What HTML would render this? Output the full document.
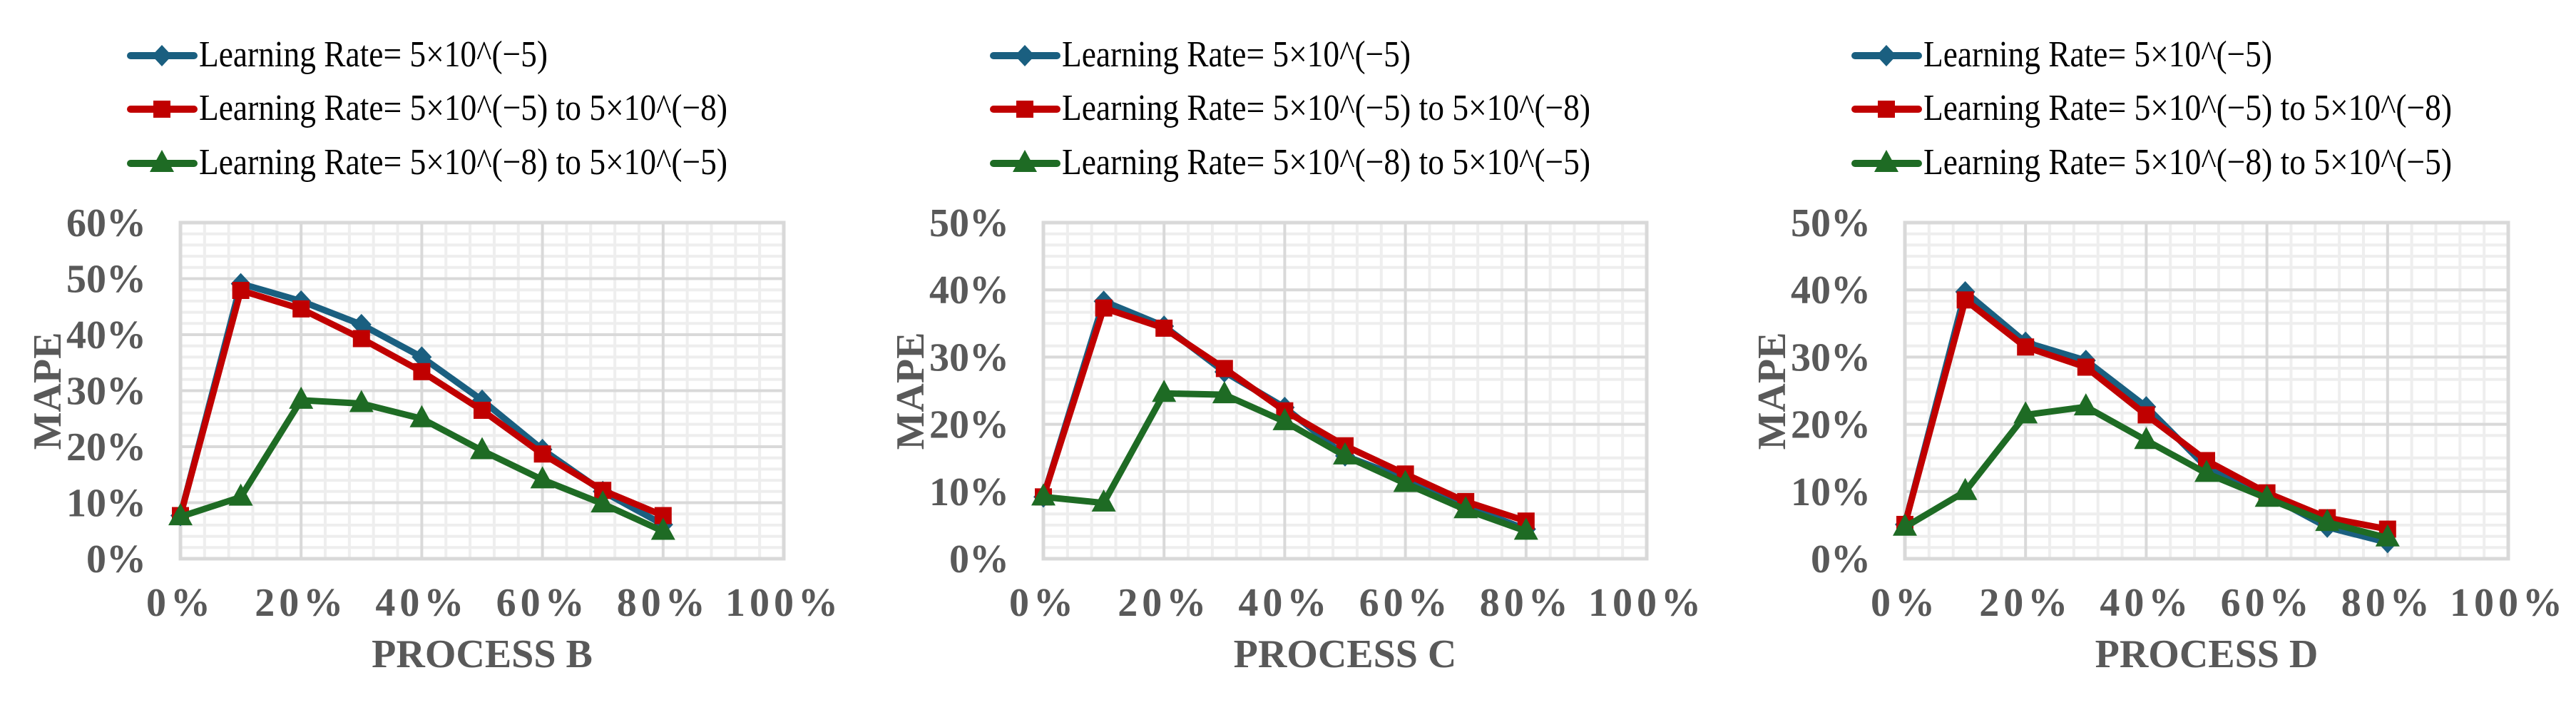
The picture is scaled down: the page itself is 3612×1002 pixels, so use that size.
<!DOCTYPE html>
<html><head><meta charset="utf-8">
<style>
html,body{margin:0;padding:0;background:#fff;}
svg{display:block;}
text{font-family:"Liberation Serif","Times New Roman",serif;}
</style></head>
<body>
<svg id="fig" width="3612" height="1002" viewBox="0 0 3612 1002" xmlns="http://www.w3.org/2000/svg"></svg>
<script>
const xCategories = [0, 10, 20, 30, 40, 50, 60, 70, 80];
const xTickLabels = ["0%", "20%", "40%", "60%", "80%", "100%"];
const xTickValues = [0, 20, 40, 60, 80, 100];
const seriesNames = ["Learning Rate= 5×10^(−5)", "Learning Rate= 5×10^(−5) to 5×10^(−8)", "Learning Rate= 5×10^(−8) to 5×10^(−5)"];
const chartTitles = ["PROCESS B", "PROCESS C", "PROCESS D"];
const yMaxes = [60, 50, 50];
const bBlue = [7.7, 49.1, 46.0, 41.8, 36.0, 28.3, 19.5, 12.0, 6.1];
const bRed = [7.7, 47.9, 44.6, 39.3, 33.4, 26.5, 18.7, 12.2, 7.7];
const bGreen = [7.5, 11.0, 28.3, 27.7, 25.0, 19.3, 14.1, 9.8, 4.9];
const cBlue = [9.2, 38.3, 34.6, 27.8, 22.5, 15.3, 11.9, 7.8, 4.4];
const cRed = [9.2, 37.3, 34.3, 28.3, 22.0, 16.8, 12.6, 8.5, 5.6];
const cGreen = [9.2, 8.3, 24.6, 24.4, 20.4, 15.3, 11.2, 7.3, 4.1];
const dBlue = [5.1, 39.7, 32.2, 29.5, 22.6, 13.6, 9.5, 4.7, 2.4];
const dRed = [5.1, 38.5, 31.5, 28.5, 21.4, 14.6, 9.8, 6.1, 4.4];
const dGreen = [4.7, 10.0, 21.4, 22.6, 17.6, 12.7, 9.0, 5.4, 3.1];

const NS = "http://www.w3.org/2000/svg";
const svg = document.getElementById('fig');
const colors = ["#1a5f80", "#c00000", "#1e6b24"];
const markers = ["diamond", "square", "triangle"];
const textColor = "#595959";

function mk(tag, attrs, parent) {
  const e = document.createElementNS(NS, tag);
  for (const k in attrs) e.setAttribute(k, attrs[k]);
  parent.appendChild(e);
  return e;
}
function marker(g, type, cx, cy, color) {
  let m;
  if (type === "diamond") m = mk('polygon', {points: `${cx},${cy-15} ${cx+14},${cy} ${cx},${cy+15} ${cx-14},${cy}`, fill: color}, g);
  else if (type === "square") m = mk('rect', {x: cx-12, y: cy-12, width: 24, height: 24, fill: color}, g);
  else m = mk('polygon', {points: `${cx},${cy-19} ${cx+17},${cy+12} ${cx-17},${cy+12}`, fill: color}, g);
  return m;
}

function drawChart(ox, idx, series) {
  const yMax = yMaxes[idx];
  const L = ox + 253, R = ox + 1099, T = 312, B = 783;
  const xs = v => L + (v / 100) * (R - L);
  const ys = v => B - (v / yMax) * (B - T);
  const g = mk('g', {}, svg);
  
  

  // legend
  const lg = mk('g', {}, g);
  
  
  const rowsY = [78, 153, 229];
  const textW = [489, 741, 741];
  for (let s = 0; s < 3; s++) {
    const e = mk('g', {}, lg);
    
    
    mk('line', {x1: ox + 183, x2: ox + 272, y1: rowsY[s], y2: rowsY[s], stroke: colors[s], 'stroke-width': 10, 'stroke-linecap': 'round'}, e);
    marker(e, markers[s], ox + 227, rowsY[s], colors[s]);
    const t = mk('text', {x: ox + 279, y: rowsY[s] + 15, 'font-size': 52, fill: '#000', textLength: textW[s], lengthAdjust: 'spacingAndGlyphs'}, e);
    t.textContent = seriesNames[s];
  }

  // grid
  const gg = mk('g', {}, g);
  
  
  for (let v = 0; v <= 100; v += 4) {
    const major = v % 20 === 0;
    if (!major) mk('line', {x1: xs(v), x2: xs(v), y1: T, y2: B, stroke: '#eeeeee', 'stroke-width': 4}, gg);
  }
  const yMinor = yMax / 30;
  for (let i = 0; i <= 30; i++) {
    if (i % 5 !== 0) mk('line', {x1: L, x2: R, y1: ys(i * yMinor), y2: ys(i * yMinor), stroke: '#eeeeee', 'stroke-width': 4}, gg);
  }
  for (let v = 0; v <= 100; v += 20) mk('line', {x1: xs(v), x2: xs(v), y1: T, y2: B, stroke: '#d9d9d9', 'stroke-width': 4}, gg);
  for (let v = 0; v <= yMax; v += 10) mk('line', {x1: L, x2: R, y1: ys(v), y2: ys(v), stroke: '#d9d9d9', 'stroke-width': 4}, gg);
  mk('rect', {x: L, y: T, width: R - L, height: B - T, fill: 'none', stroke: '#d9d9d9', 'stroke-width': 5}, gg);

  // y ticks
  for (let v = 0; v <= yMax; v += 10) {
    const t = mk('text', {x: ox + 205, y: ys(v) + 19, 'font-size': 56, 'font-weight': 'bold', fill: textColor, 'text-anchor': 'end'}, g);
    
    
    t.textContent = v + '%';
  }
  // x ticks
  for (let i = 0; i < xTickValues.length; i++) {
    const t = mk('text', {x: xs(xTickValues[i]), y: 863, 'font-size': 56, 'font-weight': 'bold', fill: textColor, 'text-anchor': 'middle', 'letter-spacing': 6}, g);
    
    
    t.textContent = xTickLabels[i];
  }
  const xt = mk('text', {x: ox + 676, y: 935, 'font-size': 56, 'font-weight': 'bold', fill: textColor, 'text-anchor': 'middle'}, g);
  
  
  xt.textContent = chartTitles[idx];
  const yt = mk('text', {x: 0, y: 0, 'font-size': 56, 'font-weight': 'bold', fill: textColor, 'text-anchor': 'middle', transform: `translate(${ox + 85},548) rotate(-90)`}, g);
  
  
  yt.textContent = 'MAPE';

  // series
  for (let s = 0; s < 3; s++) {
    const sg = mk('g', {}, g);
    
    
    const vals = series[s];
    const pts = vals.map((v, i) => xs(xCategories[i]) + ',' + ys(v)).join(' ');
    const pl = mk('polyline', {points: pts, fill: 'none', stroke: colors[s], 'stroke-width': 9, 'stroke-linejoin': 'round'}, sg);
    
    
    vals.forEach((v, i) => {
      const m = marker(sg, markers[s], xs(xCategories[i]), ys(v), colors[s]);
      
      
    });
  }
}

drawChart(0, 0, [bBlue, bRed, bGreen]);
drawChart(1210, 1, [cBlue, cRed, cGreen]);
drawChart(2418, 2, [dBlue, dRed, dGreen]);
</script>
</body></html>
